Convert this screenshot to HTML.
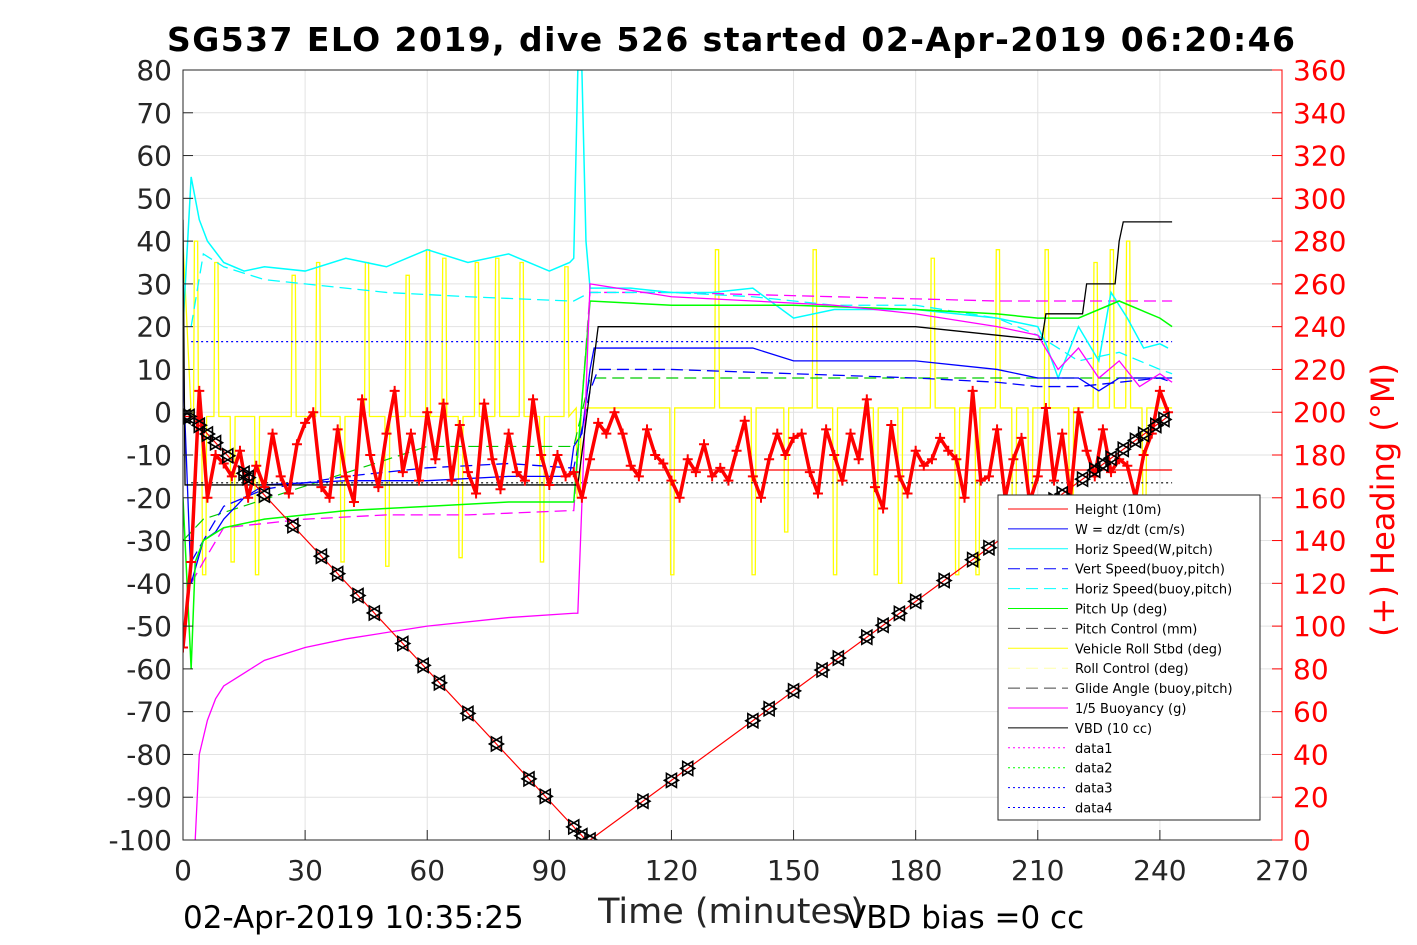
<!DOCTYPE html>
<html><head><meta charset="utf-8"><style>
body{margin:0;background:#fff;}
svg{display:block;font-family:"DejaVu Sans","Liberation Sans",sans-serif;}
</style></head><body>
<svg id="c" width="1417" height="945"></svg>
<script>
const xTicks=[0,30,60,90,120,150,180,210,240,270];
const yTicks=[80,70,60,50,40,30,20,10,0,-10,-20,-30,-40,-50,-60,-70,-80,-90,-100];
const hTicks=[360,340,320,300,280,260,240,220,200,180,160,140,120,100,80,60,40,20,0];
const depthT=[0,2,99,100,242];
const depthV=[-1,-1,-100,-100,-1];
const vbdT=[0,0.5,1.5,97,102,180,210,211,212,221,222,229,230,231,243];
const vbdV=[45,-17,-17,-17,20,20,17,17,23,23,30,30,40,44.5,44.5];
const buoyT=[3,4,6,8,10,15,20,30,40,60,80,96,97,100,120,140,160,180,200,210,215,220,225,230,235,240,243];
const buoyV=[-100,-80,-72,-67,-64,-61,-58,-55,-53,-50,-48,-47,-47,30,27,26,25,23,20,18,10,15,8,12,6,9,7];
const hspdT=[0,2,4,6,10,15,20,30,40,50,60,70,80,90,95,96,97,98,99,100,110,120,130,140,150,160,180,200,210,212,215,220,225,228,232,236,240,242];
const hspdV=[20,55,45,40,35,33,34,33,36,34,38,35,37,33,35,36,80,80,40,29,29,28,28,29,22,24,24,22,20,16,8,20,12,28,22,15,16,15];
const hbuoyT=[2,5,10,20,30,50,70,95,96,100,120,140,160,180,200,210,220,230,240,243];
const hbuoyV=[20,37,34,31,30,28,27,26,26,28,28,27,25,25,22,18,12,14,10,9];
const wT=[0,2,5,8,10,15,20,40,60,80,95,96,98,100,101,120,140,150,160,180,200,210,220,225,230,240,243];
const wV=[10,-40,-30,-28,-25,-20,-17,-16,-16,-15,-15,-8,-5,10,15,15,15,12,12,12,10,8,8,5,8,8,8];
const vsT=[2,5,10,20,40,60,80,95,96,100,102,120,150,180,200,210,220,230,240,243];
const vsV=[-35,-30,-22,-18,-15,-13,-12,-13,-13,5,10,10,9,8,7,6,6,7,8,7];
const pitchT=[0,2,3,5,10,20,40,60,80,95,96,100,120,150,180,200,210,220,230,240,243];
const pitchV=[-20,-60,-35,-30,-27,-25,-23,-22,-21,-21,-21,26,25,25,24,23,22,22,26,22,20];
const pctlT=[0,5,60,95,96,100,200,243];
const pctlV=[-30,-25,-8,-8,-8,8,8,8];
const glideT=[2,5,10,30,50,70,95,96,100,120,160,200,220,243];
const glideV=[-40,-35,-27,-25,-24,-24,-23,-23,28,28,27,26,26,26];
const headT=[];for(let i=0;i<=121;i++)headT.push(i*2);
const headV=[90,130,210,160,180,176,170,182,160,175,165,190,170,162,185,195,200,165,160,192,170,158,206,180,165,190,210,172,190,168,200,178,204,168,194,172,162,204,178,164,190,172,168,206,180,166,180,170,172,160,178,195,190,200,190,175,170,192,180,176,168,160,178,172,185,170,174,168,182,196,170,160,178,190,180,188,190,172,162,192,180,168,190,178,206,165,155,194,170,162,182,175,178,188,182,178,160,210,168,170,192,160,178,188,158,170,202,168,190,160,200,182,170,192,172,178,175,160,180,190,210,200];
const rollT=[3,5,8,12,18,27,33,39,45,50,55,60,64,68,72,77,83,88,94,97,120,131,140,148,155,160,170,176,184,190,195,200,204,208,212,218,224,228,232,236];
const rollV=[40,-38,35,-35,-38,32,35,-35,35,-36,32,38,36,-34,35,36,35,-35,34,-20,-38,38,-38,-28,38,-38,-38,-40,36,-38,-38,38,-36,-38,38,-38,35,38,40,-20];
const markT=[0.5,1.5,4,6,8,11,15,16,20,27,34,38,43,47,54,59,63,70,77,85,89,96,98,100,113,120,124,140,144,150,157,161,168,172,176,180,187,194,198,212,214,216,221,224,226,228,231,234,236,239,241];
const legendLabels=["Height (10m)","W = dz/dt (cm/s)","Horiz Speed(W,pitch)","Vert Speed(buoy,pitch)","Horiz Speed(buoy,pitch)","Pitch Up (deg)","Pitch Control (mm)","Vehicle Roll Stbd (deg)","Roll Control (deg)","Glide Angle (buoy,pitch)","1/5 Buoyancy (g)","VBD (10 cc)","data1","data2","data3","data4"];
const legendColors=["#f00","#00f","#0ff","#00f","#0ff","#0f0","#555","#ff0","#ffa","#444","#f0f","#000","#f0f","#0f0","#00f","#00f"];
const legendDash=["","","","12,6","12,6","","12,6","","12,6","12,6","","","2,3","2,3","2,3","2,3"];

const X=t=>183+t*1099/270, Y=v=>840-(v+100)*770/180, YH=h=>840-h*770/360;
const svg=document.getElementById('c');const NS='http://www.w3.org/2000/svg';
function el(tag,attrs,parent){const e=document.createElementNS(NS,tag);for(const k in attrs)e.setAttribute(k,attrs[k]);(parent||svg).appendChild(e);return e;}
function txt(s,attrs){const e=el('text',attrs);e.textContent=s;return e;}
el('rect',{x:183,y:70,width:1099,height:770,fill:'#fff'});
const grid=el('g',{stroke:'#e2e2e2','stroke-width':1});


xTicks.forEach(t=>el('line',{x1:X(t),x2:X(t),y1:70,y2:840},grid));
yTicks.forEach(v=>el('line',{x1:183,x2:1282,y1:Y(v),y2:Y(v)},grid));
function line(T,V,color,w,dash,name){const p=el('polyline',{points:T.map((t,i)=>X(t)+','+Y(V[i])).join(' '),fill:'none',stroke:color,'stroke-width':w,'stroke-dasharray':dash||''});

return p;}
const clip=el('clipPath',{id:'cp'});el('rect',{x:183,y:70,width:1099,height:770},clip);
const g0=el('g',{'clip-path':'url(#cp)'});
let rp=[];rollT.forEach((t,i)=>{const b=t<97?-1:1;rp.push([t-0.4,b],[t-0.2,rollV[i]],[t+0.6,rollV[i]],[t+0.8,b]);});
rp.push([243,1]);
const roll=el('polyline',{points:[[0,40],[2,0]].concat(rp).map(p=>X(p[0])+','+Y(p[1])).join(' '),fill:'none',stroke:'#ff0','stroke-width':1.3},g0);


g0.appendChild(line([2,243],[16.5,16.5],'#00f',1.2,'2,3','data4-line'));
g0.appendChild(line([2,243],[-16.5,-16.5],'#000',1.2,'2,3','data3-line'));
g0.appendChild(line([100,243],[-13.5,-13.5],'#f00',1.2,'','height-line'));
g0.appendChild(line(pctlT,pctlV,'#0c0',1.2,'12,6','pitch-control-series'));
g0.appendChild(line(glideT,glideV,'#f0f',1.3,'12,6','glide-angle-series'));
g0.appendChild(line(hbuoyT,hbuoyV,'#0ff',1.3,'12,6','horiz-speed-buoy-series'));
g0.appendChild(line(hspdT,hspdV,'#0ff',1.5,'','horiz-speed-series'));
g0.appendChild(line(vsT,vsV,'#00f',1.3,'12,6','vert-speed-series'));
g0.appendChild(line(wT,wV,'#00f',1.3,'','w-series'));
g0.appendChild(line(pitchT,pitchV,'#0f0',1.5,'','pitch-series'));
g0.appendChild(line(buoyT,buoyV,'#f0f',1.3,'','buoyancy-series'));
g0.appendChild(line(vbdT,vbdV,'#000',1.3,'','vbd-series'));
const hp=el('polyline',{points:headT.map((t,i)=>X(t)+','+YH(headV[i])).join(' '),fill:'none',stroke:'#f00','stroke-width':3.5,'stroke-linejoin':'round'},g0);


headT.forEach((t,i)=>{const x=X(t),y=YH(headV[i]);const m=el('path',{d:`M${x-5},${y}h10M${x},${y-5}v10`,stroke:'#f00','stroke-width':2},g0);

});
g0.appendChild(line(depthT,depthV,'#f00',1.2,'','depth-series'));
function depthAt(t){for(let i=1;i<depthT.length;i++)if(t<=depthT[i]){const f=(t-depthT[i-1])/(depthT[i]-depthT[i-1]||1);return depthV[i-1]+f*(depthV[i]-depthV[i-1]);}return depthV[depthV.length-1];}
markT.forEach(t=>{const x=X(t),y=Y(depthAt(t));const m=el('path',{d:`M${x-7},${y}l12,-7v14zM${x+7},${y}l-12,-7v14z`,fill:'none',stroke:'#000','stroke-width':1.6},g0);

});
el('rect',{x:183,y:70,width:1099,height:770,fill:'none',stroke:'#262626','stroke-width':1});
xTicks.forEach(t=>{el('line',{x1:X(t),x2:X(t),y1:840,y2:830,stroke:'#262626'});const e=txt(t,{x:X(t),y:880,'font-size':28,'text-anchor':'middle',fill:'#262626'});

});
yTicks.forEach(v=>{el('line',{x1:183,x2:193,y1:Y(v),y2:Y(v),stroke:'#262626'});const e=txt(v,{x:172,y:Y(v)+10,'font-size':28,'text-anchor':'end',fill:'#262626'});

});
hTicks.forEach(h=>{el('line',{x1:1272,x2:1282,y1:YH(h),y2:YH(h),stroke:'#f00'});const e=txt(h,{x:1293,y:YH(h)+10,'font-size':28,fill:'#f00'});

});
el('line',{x1:1282,x2:1282,y1:70,y2:840,stroke:'#f00'});
const lg=el('g',{});


el('rect',{x:998,y:495,width:262,height:325,fill:'#fff',stroke:'#262626'},lg);
legendLabels.forEach((s,i)=>{const y=509+i*19.9;el('line',{x1:1008,x2:1068,y1:y,y2:y,stroke:legendColors[i],'stroke-width':1,'stroke-dasharray':legendDash[i]},lg);const e=txt(s,{x:1075,y:y+5,'font-size':13,fill:'#000'});lg.appendChild(e);

});
let e=txt('SG537 ELO 2019, dive 526 started 02-Apr-2019 06:20:46',{x:731,y:51,'font-size':33,'font-weight':'bold','text-anchor':'middle',textLength:1128,fill:'#000'});

e=txt('Time (minutes)',{x:731,y:923,'font-size':35,'text-anchor':'middle',fill:'#262626'});

e=txt('02-Apr-2019 10:35:25',{x:183,y:928,'font-size':31,fill:'#000'});

e=txt('VBD bias =0 cc',{x:845,y:928,'font-size':31,fill:'#000'});

e=txt('(+) Heading (°M)',{x:0,y:0,'font-size':32,'text-anchor':'middle',fill:'#f00',transform:'translate(1394,500) rotate(-90)'});

</script>
</body></html>
